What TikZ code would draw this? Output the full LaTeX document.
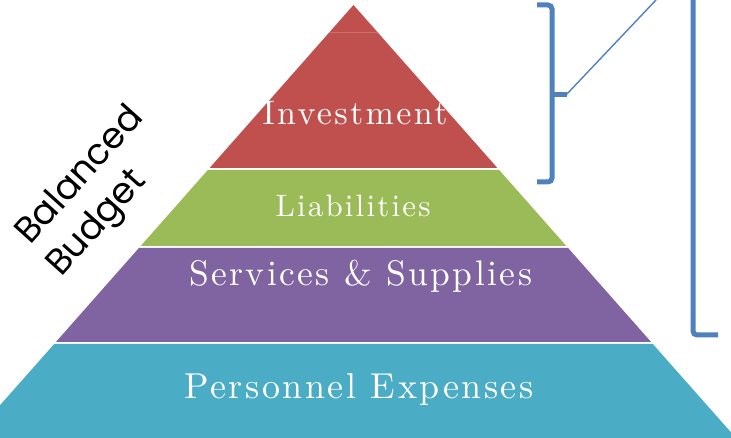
\documentclass[tikz,border=0pt]{standalone}
\usepackage{fontspec}
\newfontfamily\gothic{Poppins}
\newfontfamily\bandserif{lmroman10-regular.otf}[LetterSpace=7]
\definecolor{cred}{HTML}{C0504D}
\definecolor{cgreen}{HTML}{9BBB59}
\definecolor{cpurple}{HTML}{8064A2}
\definecolor{cteal}{HTML}{4BACC6}
\definecolor{cblue}{HTML}{4F81BD}
\definecolor{cfaint}{HTML}{CF6B68}
\newcommand{\bandfont}[1]{\bandserif\fontsize{#1}{#1}\selectfont}
\tikzset{
  bandtext/.style={text=white, inner sep=0pt, anchor=base},
  sidetext/.style={rotate=48, anchor=base west, inner sep=0pt, font=\gothic\fontsize{36}{36}\selectfont},
  brace/.style={draw=cblue, line width=5pt, rounded corners=4pt},
  thinline/.style={draw=cblue, line width=1.4pt}
}
\begin{document}
\begin{tikzpicture}[x=1pt,y=-1pt]
\useasboundingbox (0,0) rectangle (731,438);
\begin{scope}
\clip (0,0) rectangle (731,438);
\fill[cred] (353.5,5) -- (497.4,168) -- (209.6,168) -- cycle;
\draw[cfaint, line width=1pt] (329,33) -- (378,33);
\fill[cgreen] (207.8,170) -- (499.2,170) -- (566.3,246) -- (140.7,246) -- cycle;
\fill[cpurple] (138.9,248) -- (568.1,248) -- (651.1,342) -- (55.9,342) -- cycle;
\fill[cteal] (54.2,344) -- (652.8,344) -- (736,438) -- (-29,438) -- cycle;
\end{scope}
\node[bandtext, font=\bandfont{34}] (inv) at (355,125) {Investment};
\node[bandtext, font=\bandfont{31}] (lia) at (353,217) {Liabilities};
\node[bandtext, font=\bandfont{35.5}] (ser) at (360.5,286) {Services \& Supplies};
\node[bandtext, font=\bandfont{36}] (per) at (359,398) {Personnel Expenses};
\node[sidetext] (bal) at (30,246) {Balanced};
\node[sidetext] (bud) at (61,278) {Budget};
% brace 1
\draw[brace] (537,5) -- (552,5) -- (552,182) -- (537,182);
\draw[cblue, line width=5pt] (552,95) -- (567,95);
\coordinate (tip) at (566,95);
\coordinate (far) at (656,0);
\draw[thinline] (tip) -- (far);
% bracket 2
\draw[brace] (693,-10) -- (693,335) -- (718,335);
\end{tikzpicture}
\end{document}
